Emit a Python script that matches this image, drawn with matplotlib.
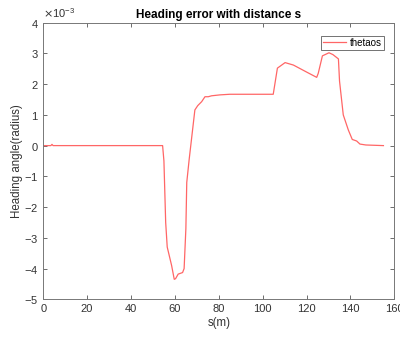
# Heading error vs distance, MATLAB-style look
import numpy as np
import matplotlib.pyplot as plt
from matplotlib.ticker import ScalarFormatter

plt.rcParams['font.family'] = ['Liberation Sans', 'DejaVu Sans']

# Data (heading error in units of 1e-3 rad)
s = [0, 3.5, 4.0, 4.5, 54.4, 55.0, 55.8, 56.5, 58.5, 59.7, 60.3, 61.5, 63.5,
     64.2, 65.0, 65.4, 66.5, 69.1, 70.4, 72.2, 73.7, 75.2, 76.7, 80.5, 85.0,
     104.8, 106.7, 110.2, 114.0, 119.8, 124.6, 125.3, 127.2, 130.2, 132.0,
     134.5, 135.0, 136.7, 139.0, 140.8, 142.8, 144.3, 147.0, 155.0]
theta_e3 = [0, 0, 0.04, 0, 0, -0.5, -2.5, -3.3, -3.9, -4.35, -4.33, -4.18, -4.13,
            -4.0, -2.7, -1.2, -0.45, 1.16, 1.30, 1.43, 1.59, 1.59, 1.62, 1.65, 1.67,
            1.67, 2.52, 2.70, 2.62, 2.40, 2.22, 2.35, 2.92, 3.02, 2.96,
            2.82, 2.1, 1.0, 0.51, 0.2, 0.15, 0.05, 0.02, 0.0]
thetaos = np.array(theta_e3) * 1e-3

xticks = [0, 20, 40, 60, 80, 100, 120, 140, 160]
yticks = np.arange(-5, 5) * 1e-3

fig = plt.figure(figsize=(4.0, 3.38), dpi=100)
ax = fig.add_axes([0.108, 0.1145, 0.878, 0.8185])

ax.plot(s, thetaos, color='#ff6666', lw=0.9, label='thetaos')

ax.set_xlim(0, 160)
ax.set_ylim(-5e-3, 4e-3)
ax.set_xticks(xticks)
ax.set_yticks(yticks)

fmt = ScalarFormatter(useMathText=True)
fmt.set_powerlimits((-2, 2))
ax.yaxis.set_major_formatter(fmt)
ax.yaxis.get_offset_text().set_fontsize(8)
ax.yaxis.get_offset_text().set_color('#555555')

ax.tick_params(direction='in', top=True, right=True, length=3, width=0.6,
               colors='#555555', labelsize=8, labelcolor='#333333')
for sp in ax.spines.values():
    sp.set_color('#777777')
    sp.set_linewidth(0.7)

ax.set_title('Heading error with distance s', fontsize=8.5, fontweight='bold', pad=3)
ax.set_xlabel('s(m)', fontsize=8.3, color='#333333', labelpad=2)
ax.set_ylabel('Heading angle(radius)', fontsize=8.3, color='#333333', labelpad=1)

leg = ax.legend(loc='upper right', bbox_to_anchor=(0.971, 0.952), fontsize=7,
                frameon=True, fancybox=False, handlelength=2.4, handletextpad=0.4,
                borderpad=0.2, borderaxespad=0.0)
leg.get_frame().set_edgecolor('#333333')
leg.get_frame().set_linewidth(0.6)

fig.savefig('out.png', dpi=100)
